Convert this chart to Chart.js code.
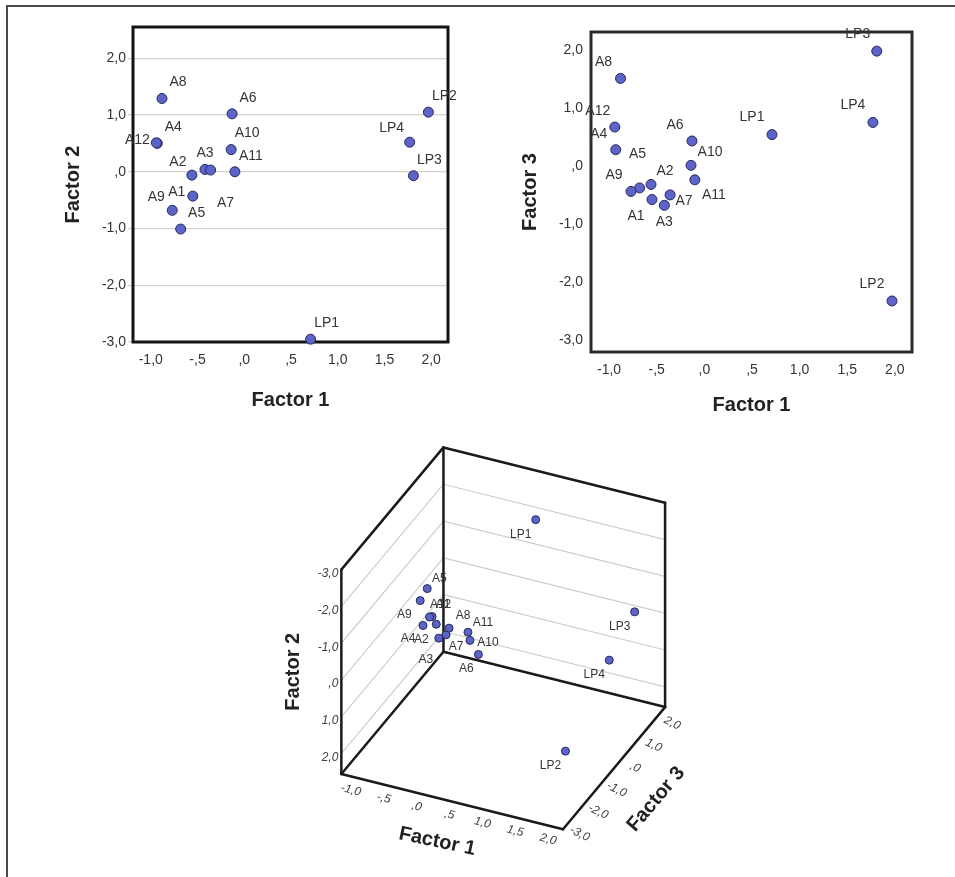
<!DOCTYPE html>
<html>
<head>
<meta charset="utf-8">
<script src="https://cdn.jsdelivr.net/npm/chart.js@4"></script>
<style>
  body { margin: 0; background: #fff; width: 955px; height: 877px; position: relative; overflow: hidden; }
  .frame { position: absolute; left: 6px; top: 5px; width: 949px; height: 872px; border-top: 2px solid #4a4a4a; border-left: 2px solid #4a4a4a; }
  .box { position: absolute; }
</style>
</head>
<body>
<div class="frame"></div>
<div class="box" style="left:0;top:0;width:470px;height:420px"><canvas id="chart-f1f2" width="470" height="420"></canvas></div>
<div class="box" style="left:480px;top:0;width:475px;height:420px"><canvas id="chart-f1f3" width="475" height="420"></canvas></div>
<div class="box" style="left:250px;top:430px;width:455px;height:447px"><canvas id="chart-3d" width="455" height="447"></canvas></div>
<script>
const names = ["A1", "A2", "A3", "A4", "A5", "A6", "A7", "A8", "A9", "A10", "A11", "A12", "LP1", "LP2", "LP3", "LP4"];
const factor1 = [-0.55, -0.56, -0.42, -0.93, -0.68, -0.13, -0.36, -0.88, -0.77, -0.14, -0.10, -0.94, 0.71, 1.97, 1.81, 1.77];
const factor2 = [-0.43, -0.06, 0.04, 0.50, -1.01, 1.02, 0.03, 1.29, -0.68, 0.39, 0.00, 0.51, -2.95, 1.05, -0.07, 0.52];
const factor3 = [-0.57, -0.31, -0.67, 0.29, -0.37, 0.44, -0.49, 1.52, -0.43, 0.02, -0.23, 0.68, 0.55, -2.32, 1.99, 0.76];

const ticksF1 = [-1.0, -0.5, 0, 0.5, 1.0, 1.5, 2.0];
const ticksF2 = [-3, -2, -1, 0, 1, 2];
const ticksF3 = [-3, -2, -1, 0, 1, 2];

const rangeF1 = [-1.19, 2.18];
const rangeF2 = [-3.0, 2.55];
const rangeF3 = [-3.2, 2.32];

const FONT = "'Liberation Sans', Arial, sans-serif";
Chart.defaults.font.family = FONT;
Chart.defaults.color = "#333";

// SPSS style: 1 decimal, comma, no leading zero
function fmt(v) {
  let s = Math.abs(v).toFixed(1).replace(".", ",");
  if (s.startsWith("0")) s = s.slice(1);
  return (v < 0 ? "-" : "") + s;
}

const pointStyle = {
  pointRadius: 5,
  pointBackgroundColor: "#5d64c8",
  pointBorderColor: "#26285e",
  pointBorderWidth: 1,
  clip: false,
};

// label offsets (dx, dy from point to label centre)
const shifts12 = { A12: [-19, -3], LP4: [-18, -14], A3: [0, -16], A7: [15, 33], A2: [-14, -13], A1: [-16, -4], A9: [-16, -13] };
const shifts13 = { A5: [-2, -34], A10: [19, -13], A2: [14, -13], A11: [19, 15], A7: [14, 6], A1: [-16, 17], A3: [0, 17],
  LP1: [-20, -17], LP2: [-20, -17], LP4: [-20, -17], LP3: [-19, -17] };
const shifts3d = { A5: [12, -10], A1: [11, -12], A12: [11, -12], A8: [14, -12], A11: [15, -10], A10: [18, 2],
  A7: [10, 12], A3: [-13, 22], A6: [-12, 14], A9: [-16, 14], A4: [-15, 13] };

function labelPlugin(shifts, def, size) {
  return {
    id: "pointNames",
    afterDatasetsDraw(chart) {
      const ctx = chart.ctx;
      const meta = chart.getDatasetMeta(0);
      ctx.save();
      ctx.font = size + "px " + FONT;
      ctx.fillStyle = "#353535";
      ctx.textAlign = "center";
      ctx.textBaseline = "middle";
      meta.data.forEach((pt, i) => {
        const s = shifts[names[i]] || def;
        ctx.fillText(names[i], pt.x + s[0], pt.y + s[1]);
      });
      ctx.restore();
    },
  };
}

const framePlugin = {
  id: "frame",
  beforeDatasetsDraw(chart, args, opts) {
    const a = chart.chartArea;
    const ctx = chart.ctx;
    ctx.save();
    ctx.strokeStyle = opts.color;
    ctx.lineWidth = opts.width;
    ctx.strokeRect(a.left, a.top, a.right - a.left, a.bottom - a.top);
    ctx.restore();
  },
};

function scatter2d(canvasId, yValues, yTicks, yRange, yTitle, cfg) {
  return new Chart(document.getElementById(canvasId), {
    type: "scatter",
    data: {
      datasets: [{ data: names.map((n, i) => ({ x: factor1[i], y: yValues[i] })), ...pointStyle }],
    },
    options: {
      responsive: false,
      animation: false,
      layout: { padding: cfg.padding },
      plugins: {
        legend: { display: false },
        tooltip: { enabled: false },
        frame: { color: cfg.frameColor, width: 3 },
      },
      scales: {
        x: {
          type: "linear",
          min: rangeF1[0],
          max: rangeF1[1],
          afterBuildTicks: (s) => { s.ticks = ticksF1.map((v) => ({ value: v })); },
          afterFit: (s) => { s.height = cfg.xHeight; },
          grid: { display: false, drawTicks: false },
          border: { display: false },
          ticks: { callback: fmt, padding: 10, autoSkip: false, maxRotation: 0, font: { size: 14 }, color: "#333" },
          title: { display: true, text: "Factor 1", font: { size: 20, weight: "bold" }, color: "#222", padding: { top: 0, bottom: cfg.xTitlePad } },
        },
        y: {
          type: "linear",
          min: yRange[0],
          max: yRange[1],
          afterBuildTicks: (s) => { s.ticks = yTicks.map((v) => ({ value: v })); },
          afterFit: (s) => { s.width = cfg.yWidth; },
          grid: cfg.yGrid,
          border: { display: false },
          ticks: { callback: fmt, padding: cfg.yTickPad, autoSkip: false, font: { size: 14 }, color: "#333" },
          title: { display: true, text: yTitle, font: { size: 20, weight: "bold" }, color: "#222", padding: { top: cfg.yTitlePad, bottom: 0 } },
        },
      },
    },
    plugins: [framePlugin, labelPlugin(cfg.shifts, cfg.defShift, 14)],
  });
}

scatter2d("chart-f1f2", factor2, ticksF2, rangeF2, "Factor 2", {
  padding: { left: 0, top: 27, right: 22, bottom: 0 },
  xHeight: 78,
  yWidth: 133,
  xTitlePad: 8,
  yTitlePad: 61,
  yTickPad: 2,
  yGrid: { display: true, color: "#d4d4ca", lineWidth: 1.2, drawTicks: true, tickLength: 5 },
  frameColor: "#141414",
  shifts: shifts12,
  defShift: [16, -16],
});

scatter2d("chart-f1f3", factor3, ticksF3, rangeF3, "Factor 3", {
  padding: { left: 0, top: 32, right: 43, bottom: 0 },
  xHeight: 68,
  yWidth: 111,
  xTitlePad: 3,
  yTitlePad: 38,
  yTickPad: 8,
  yGrid: { display: false, drawTicks: false },
  frameColor: "#2a2a2a",
  shifts: shifts13,
  defShift: [-17, -16],
});

// ---- 3D view: oblique projection of the three factors ----
const view3d = { origin: [442.7, 651.7], u: [226.6, 56.6], w: [-104.4, 125], h: [0, -209] };

function project(f1, f2, f3) {
  const a = (f1 - rangeF1[0]) / (rangeF1[1] - rangeF1[0]);
  const c = (rangeF3[1] - f3) / (rangeF3[1] - rangeF3[0]);
  const b = (rangeF2[1] - f2) / (rangeF2[1] - rangeF2[0]);
  return [
    view3d.origin[0] + a * view3d.u[0] + c * view3d.w[0] + b * view3d.h[0],
    view3d.origin[1] + a * view3d.u[1] + c * view3d.w[1] + b * view3d.h[1],
  ];
}

const box3dPlugin = {
  id: "box3d",
  beforeDatasetsDraw(chart) {
    const ctx = chart.ctx;
    const sx = chart.scales.x, sy = chart.scales.y;
    const P = (f1, f2, f3) => {
      const p = project(f1, f2, f3);
      return [sx.getPixelForValue(p[0]), sy.getPixelForValue(p[1])];
    };
    const line = (p, q) => { ctx.beginPath(); ctx.moveTo(p[0], p[1]); ctx.lineTo(q[0], q[1]); ctx.stroke(); };
    const [x0, x1] = rangeF1, [y0, y1] = rangeF2, [z0, z1] = rangeF3;
    ctx.save();
    // grid lines on back and left walls
    ctx.strokeStyle = "#cfcfc8";
    ctx.lineWidth = 1.2;
    ticksF2.forEach((v) => {
      if (v === y0) return;
      line(P(x0, v, z1), P(x1, v, z1));
      line(P(x0, v, z0), P(x0, v, z1));
    });
    // box edges
    ctx.strokeStyle = "#1a1a1a";
    ctx.lineWidth = 2.5;
    ctx.lineCap = "round";
    const B = P(x0, y1, z1), Bt = P(x0, y0, z1);
    const L = P(x0, y1, z0), Lt = P(x0, y0, z0);
    const R = P(x1, y1, z1), Rt = P(x1, y0, z1);
    const F = P(x1, y1, z0);
    [[B, Bt], [L, Lt], [R, Rt], [Bt, Lt], [Bt, Rt], [B, L], [B, R], [L, F], [R, F]].forEach((e) => line(e[0], e[1]));

    // tick labels
    ctx.fillStyle = "#404040";
    ctx.font = "italic 12px " + FONT;
    ctx.textBaseline = "middle";
    ctx.textAlign = "right";
    ticksF2.forEach((v) => {
      const p = P(x0, v, z0);
      ctx.fillText(fmt(v), p[0] - 3, p[1] + 4);
    });
    ctx.textAlign = "center";
    ticksF1.forEach((v) => {
      const p = P(v, y1, z0);
      ctx.save();
      ctx.translate(p[0] - 3, p[1] + 13);
      ctx.rotate(0.25);
      ctx.fillText(fmt(v), 0, 0);
      ctx.restore();
    });
    ticksF3.forEach((v) => {
      const p = P(x1, y1, v);
      ctx.save();
      ctx.translate(p[0] + 13, p[1] + 9);
      ctx.rotate(0.45);
      ctx.fillText(fmt(v), 0, 0);
      ctx.restore();
    });

    // axis titles
    ctx.fillStyle = "#222";
    ctx.font = "bold 20px " + FONT;
    const mid = (p, q) => [(p[0] + q[0]) / 2, (p[1] + q[1]) / 2];
    const title = (text, p, dx, dy, rot) => {
      ctx.save();
      ctx.translate(p[0] + dx, p[1] + dy);
      ctx.rotate(rot);
      ctx.fillText(text, 0, 0);
      ctx.restore();
    };
    title("Factor 2", mid(L, Lt), -48, 0, -Math.PI / 2);
    title("Factor 1", mid(L, F), -15, 40, 0.21);
    title("Factor 3", mid(R, F), 42, 31, -0.87);
    ctx.restore();
  },
};

new Chart(document.getElementById("chart-3d"), {
  type: "scatter",
  data: {
    datasets: [{
      data: names.map((n, i) => {
        const p = project(factor1[i], factor2[i], factor3[i]);
        return { x: p[0], y: p[1] };
      }),
      ...pointStyle,
      pointRadius: 4,
    }],
  },
  options: {
    responsive: false,
    animation: false,
    layout: { padding: 0 },
    plugins: { legend: { display: false }, tooltip: { enabled: false } },
    scales: {
      x: { type: "linear", display: false, min: 250, max: 705 },
      y: { type: "linear", display: false, min: 430, max: 877, reverse: true },
    },
  },
  plugins: [box3dPlugin, labelPlugin(shifts3d, [-15, 15], 12)],
});
</script>
</body>
</html>
